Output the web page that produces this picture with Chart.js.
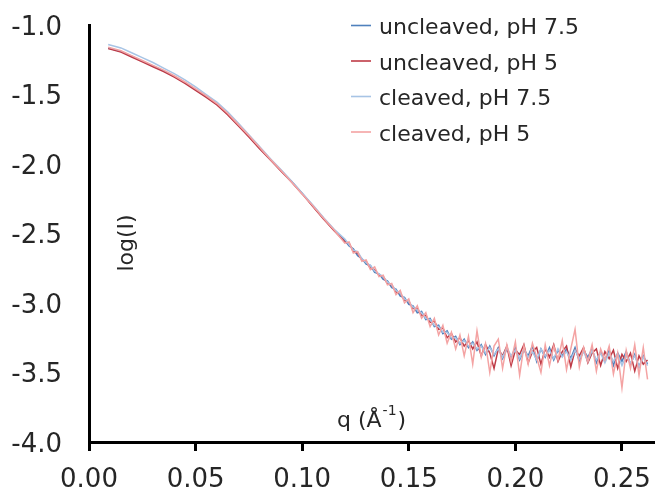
<!DOCTYPE html>
<html>
<head>
<meta charset="utf-8">
<script src="https://cdn.jsdelivr.net/npm/chart.js@4.4.0/dist/chart.umd.min.js"></script>
<style>
  html, body { margin: 0; padding: 0; background: #fff; }
  #wrap { width: 655px; height: 500px; }
</style>
</head>
<body>
<div id="wrap"><canvas id="myChart" width="655" height="500"></canvas></div>
<script>
// q values (Å^-1), shared by all four curves
const q = [
  0.009, 0.015, 0.020, 0.025, 0.030, 0.035, 0.040, 0.045, 0.050, 0.055, 0.060,
  0.065, 0.070, 0.075, 0.080, 0.085, 0.090, 0.095, 0.100, 0.105, 0.110, 0.115,
  0.120, 0.122, 0.124, 0.126, 0.128, 0.130, 0.132, 0.134, 0.136, 0.138,
  0.140, 0.142, 0.144, 0.146, 0.148, 0.150, 0.152, 0.154, 0.156, 0.158,
  0.160, 0.162, 0.164, 0.166, 0.168, 0.170, 0.172, 0.174, 0.176, 0.178,
  0.180, 0.182, 0.184, 0.186, 0.188, 0.190, 0.192, 0.194, 0.196, 0.198,
  0.200, 0.202, 0.204, 0.206, 0.208, 0.210, 0.212, 0.214, 0.216, 0.218,
  0.220, 0.222, 0.224, 0.226, 0.228, 0.230, 0.232, 0.234, 0.236, 0.238,
  0.240, 0.242, 0.244, 0.246, 0.248, 0.250, 0.252, 0.254, 0.256, 0.258,
  0.260, 0.262
];

// log(I)
const uncleaved75 = [
  -1.165, -1.190, -1.225, -1.260, -1.295, -1.330, -1.370, -1.415, -1.465, -1.515, -1.570,
  -1.640, -1.720, -1.800, -1.885, -1.965, -2.045, -2.125, -2.210, -2.300, -2.390, -2.475,
  -2.55, -2.59, -2.61, -2.66, -2.68, -2.72, -2.73, -2.78, -2.79, -2.83,
  -2.84, -2.89, -2.90, -2.95, -2.96, -3.01, -3.02, -3.07, -3.06, -3.12,
  -3.11, -3.17, -3.16, -3.22, -3.20, -3.26, -3.24, -3.30, -3.26, -3.32,
  -3.28, -3.34, -3.30, -3.37, -3.31, -3.38, -3.32, -3.40, -3.33, -3.39,
  -3.32, -3.41, -3.34, -3.38, -3.31, -3.42, -3.33, -3.39, -3.32, -3.41,
  -3.34, -3.38, -3.33, -3.40, -3.32, -3.42, -3.34, -3.39, -3.33, -3.43,
  -3.35, -3.41, -3.34, -3.45, -3.36, -3.42, -3.35, -3.44, -3.37, -3.46,
  -3.38, -3.44
];
const uncleaved5 = [
  -1.170, -1.195, -1.230, -1.265, -1.300, -1.335, -1.375, -1.420, -1.470, -1.520, -1.575,
  -1.645, -1.725, -1.805, -1.890, -1.970, -2.050, -2.130, -2.215, -2.305, -2.395, -2.480,
  -2.56, -2.57, -2.63, -2.64, -2.69, -2.70, -2.75, -2.76, -2.80, -2.81,
  -2.86, -2.87, -2.92, -2.93, -2.98, -2.99, -3.04, -3.04, -3.09, -3.09,
  -3.14, -3.13, -3.19, -3.18, -3.25, -3.22, -3.28, -3.25, -3.31, -3.27,
  -3.33, -3.28, -3.38, -3.30, -3.36, -3.47, -3.33, -3.38, -3.31, -3.45,
  -3.34, -3.37, -3.30, -3.43, -3.35, -3.32, -3.44, -3.33, -3.39, -3.30,
  -3.42, -3.35, -3.31, -3.46, -3.34, -3.38, -3.32, -3.43, -3.36, -3.33,
  -3.45, -3.35, -3.40, -3.34, -3.47, -3.37, -3.42, -3.36, -3.49, -3.38,
  -3.44, -3.41
];
const cleaved75 = [
  -1.140, -1.165, -1.200, -1.235, -1.270, -1.310, -1.350, -1.395, -1.445, -1.500, -1.555,
  -1.625, -1.705, -1.790, -1.875, -1.960, -2.040, -2.125, -2.210, -2.295, -2.385, -2.470,
  -2.54, -2.58, -2.62, -2.63, -2.68, -2.71, -2.73, -2.77, -2.79, -2.81,
  -2.85, -2.87, -2.91, -2.93, -2.97, -2.99, -3.03, -3.05, -3.07, -3.11,
  -3.12, -3.16, -3.17, -3.21, -3.21, -3.25, -3.25, -3.29, -3.27, -3.31,
  -3.29, -3.33, -3.31, -3.36, -3.32, -3.37, -3.33, -3.39, -3.32, -3.38,
  -3.34, -3.40, -3.33, -3.39, -3.35, -3.41, -3.33, -3.38, -3.34, -3.40,
  -3.33, -3.39, -3.35, -3.41, -3.34, -3.40, -3.35, -3.42, -3.34, -3.41,
  -3.36, -3.43, -3.36, -3.42, -3.37, -3.45, -3.38, -3.43, -3.38, -3.46,
  -3.39, -3.45
];
const cleaved5 = [
  -1.160, -1.185, -1.220, -1.255, -1.290, -1.325, -1.365, -1.410, -1.460, -1.510, -1.565,
  -1.635, -1.715, -1.795, -1.880, -1.965, -2.045, -2.130, -2.215, -2.300, -2.390, -2.475,
  -2.57, -2.56, -2.64, -2.63, -2.70, -2.69, -2.76, -2.74, -2.81, -2.80,
  -2.87, -2.86, -2.94, -2.91, -3.00, -2.97, -3.07, -3.02, -3.11, -3.07,
  -3.17, -3.11, -3.23, -3.16, -3.29, -3.21, -3.33, -3.23, -3.38, -3.24,
  -3.44, -3.20, -3.39, -3.29, -3.50, -3.31, -3.26, -3.47, -3.30, -3.42,
  -3.28, -3.52, -3.31, -3.44, -3.29, -3.39, -3.50, -3.30, -3.45, -3.31,
  -3.41, -3.27, -3.48, -3.33, -3.19, -3.46, -3.32, -3.42, -3.30, -3.49,
  -3.33, -3.41, -3.31, -3.51, -3.36, -3.61, -3.34, -3.47, -3.30, -3.52,
  -3.32, -3.55
];

const seriesNames = ['uncleaved, pH 7.5', 'uncleaved, pH 5', 'cleaved, pH 7.5', 'cleaved, pH 5'];
const seriesColors = ['#4f81bd', '#be3a46', '#a7c4e5', '#f4a3a3'];
const seriesValues = [uncleaved75, uncleaved5, cleaved75, cleaved5];

const xTicks = [0, 0.05, 0.10, 0.15, 0.20, 0.25];
const yTicks = [-4.0, -3.5, -3.0, -2.5, -2.0, -1.5, -1.0];

const FONT = '"DejaVu Sans", "Open Sans", sans-serif';
const TEXT = '#262626';

// legend + axis titles sit inside the plot, so draw them by hand
const insideText = {
  id: 'insideText',
  afterDatasetsDraw(chart) {
    const ctx = chart.ctx;
    ctx.save();
    ctx.fillStyle = TEXT;
    ctx.textBaseline = 'alphabetic';

    // legend
    ctx.font = '22px ' + FONT;
    ctx.textAlign = 'left';
    chart.data.datasets.forEach((ds, i) => {
      const base = 34 + i * 35.5;
      ctx.strokeStyle = ds.borderColor;
      ctx.lineWidth = 1.6;
      ctx.beginPath();
      ctx.moveTo(351, base - 8.5);
      ctx.lineTo(371, base - 8.5);
      ctx.stroke();
      ctx.fillText(ds.label, 379, base);
    });

    // y title, rotated
    ctx.save();
    ctx.translate(133, 243);
    ctx.rotate(-Math.PI / 2);
    ctx.textAlign = 'center';
    ctx.fillText('log(I)', 0, 0);
    ctx.restore();

    // x title with superscript
    let x = 337;
    const base = 427;
    ctx.textAlign = 'left';
    ctx.font = '22px ' + FONT;
    ctx.fillText('q (Å', x, base);
    x += ctx.measureText('q (Å').width + 1;
    ctx.font = '14px ' + FONT;
    ctx.fillText('-1', x, base - 12);
    x += ctx.measureText('-1').width + 1;
    ctx.font = '22px ' + FONT;
    ctx.fillText(')', x, base);

    ctx.restore();
  }
};

const ctx = document.getElementById('myChart');

new Chart(ctx, {
  type: 'line',
  data: {
    datasets: seriesValues.map((vals, i) => ({
      label: seriesNames[i],
      data: vals.map((v, j) => ({ x: q[j], y: v })),
      borderColor: seriesColors[i],
      backgroundColor: seriesColors[i],
      borderWidth: 1.5,
      pointRadius: 0,
      tension: 0,
      fill: false,
      order: seriesValues.length - i
    }))
  },
  options: {
    responsive: false,
    animation: false,
    devicePixelRatio: 1,
    layout: {
      padding: { top: 25, left: 0, right: 0, bottom: 0 }
    },
    plugins: {
      legend: { display: false },
      tooltip: { enabled: false }
    },
    scales: {
      x: {
        type: 'linear',
        min: 0,
        max: 0.2655,
        afterBuildTicks: (scale) => { scale.ticks = xTicks.map(v => ({ value: v })); },
        afterFit: (scale) => {
          scale.height = 58;
          scale.paddingLeft = 0;
          scale.paddingRight = 0;
        },
        grid: {
          drawOnChartArea: false,
          drawTicks: true,
          tickLength: 9,
          tickWidth: 3,
          tickColor: '#000'
        },
        border: { display: true, color: '#000', width: 3 },
        ticks: {
          padding: 14,
          color: TEXT,
          font: { family: FONT, size: 26 },
          maxRotation: 0,
          callback: (v) => Number(v).toFixed(2)
        }
      },
      y: {
        min: -4,
        max: -1,
        afterBuildTicks: (scale) => { scale.ticks = yTicks.map(v => ({ value: v })); },
        afterFit: (scale) => {
          scale.width = 89;
          scale.paddingTop = 0;
          scale.paddingBottom = 0;
        },
        grid: { display: false, drawTicks: false },
        border: { display: true, color: '#000', width: 3 },
        ticks: {
          padding: 27,
          labelOffset: 3,
          color: TEXT,
          font: { family: FONT, size: 26 },
          callback: (v) => Number(v).toFixed(1)
        }
      }
    }
  },
  plugins: [insideText]
});
</script>
</body>
</html>
